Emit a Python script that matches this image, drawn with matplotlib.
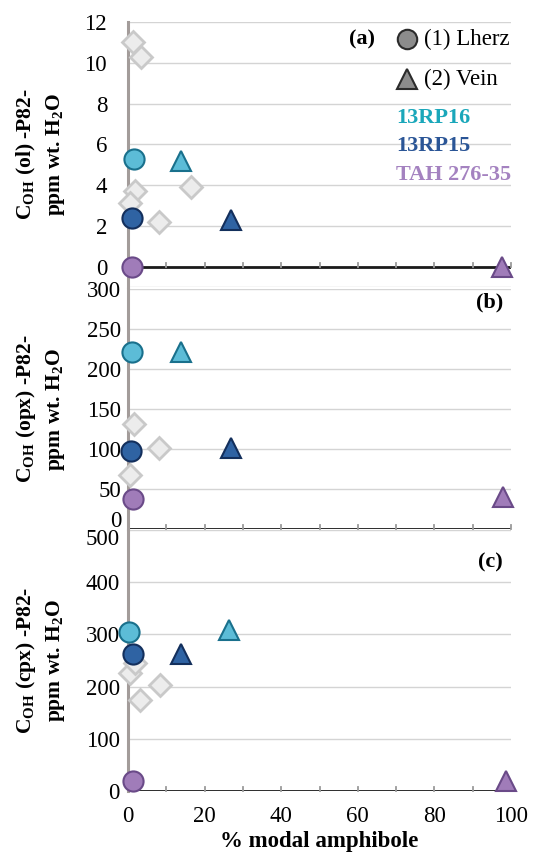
import matplotlib
matplotlib.use("Agg")
import matplotlib.pyplot as plt
import matplotlib.transforms as mtransforms

plt.rcParams["font.family"] = ["Liberation Serif", "DejaVu Serif"]
plt.rcParams["mathtext.fontset"] = "custom"
plt.rcParams["mathtext.rm"] = "Liberation Serif"
plt.rcParams["mathtext.bf"] = "Liberation Serif:bold"

# modal amphibole (%) and C_OH values
# panel (a) olivine
ol_lit_x = [1.3, 3.4, 1.8, 0.5, 8.1, 16.4]
ol_lit_y = [11.0, 10.3, 3.7, 3.1, 2.2, 3.9]
ol_lherz_x = [1.5, 1.0, 1.0]
ol_lherz_y = [5.3, 2.4, 0.0]
ol_vein_x = [13.8, 27.0, 97.6]
ol_vein_y = [5.2, 2.3, 0.0]

# panel (b) orthopyroxene
opx_lit_x = [1.6, 8.1, 0.5]
opx_lit_y = [131, 101, 67]
opx_lherz_x = [1.0, 0.8, 1.3]
opx_lherz_y = [221, 98, 37]
opx_vein_x = [13.8, 27.0, 97.8]
opx_vein_y = [221, 101, 40]

# panel (c) clinopyroxene
cpx_lit_x = [0.5, 1.8, 3.1, 8.4]
cpx_lit_y = [226, 245, 174, 203]
cpx_lherz_x = [0.3, 1.3, 1.3]
cpx_lherz_y = [305, 262, 19]
cpx_vein_x = [26.4, 13.8, 98.7]
cpx_vein_y = [308, 262, 19]

samples = ["13RP16", "13RP15", "TAH 276-35"]
fills = ["#5cbcd7", "#2f63a3", "#a07cb9"]
edges = ["#19708c", "#132f5c", "#6a4a88"]
text_colors = ["#1aa7ba", "#2a5596", "#a482c0"]

fig = plt.figure(figsize=(5.34, 8.52), dpi=100)
left, right = 128 / 534, 511 / 534


def frac(top_px, bottom_px):
    return [left, 1 - bottom_px / 852, right - left, (bottom_px - top_px) / 852]


ax_a = fig.add_axes(frac(22, 287))
ax_b = fig.add_axes(frac(289, 529))
ax_c = fig.add_axes(frac(530, 791))

panels = [
    (ax_a, ol_lit_x, ol_lit_y, ol_lherz_x, ol_lherz_y, ol_vein_x, ol_vein_y,
     (-1, 12), range(0, 13, 2), "ol", 15),
    (ax_b, opx_lit_x, opx_lit_y, opx_lherz_x, opx_lherz_y, opx_vein_x, opx_vein_y,
     (0, 300), range(0, 301, 50), "opx", 5),
    (ax_c, cpx_lit_x, cpx_lit_y, cpx_lherz_x, cpx_lherz_y, cpx_vein_x, cpx_vein_y,
     (0, 500), range(0, 501, 100), "cpx", 6),
]

for ax, lx, ly, hx, hy, vx, vy, ylim, yt, mineral, pad in panels:
    ax.set_xlim(0, 100)
    ax.set_ylim(*ylim)
    ax.set_yticks(list(yt))
    for g in yt:
        if g != 0:
            ax.axhline(g, color="#d4d4d4", lw=1.0, zorder=0)
    if ylim[0] < 0:
        ax.axhline(ylim[0], color="#d4d4d4", lw=1.0, zorder=0)
    ax.axhline(0, color="#1a1a1a", lw=2.0, zorder=1)
    for t in range(10, 101, 10):
        ax.plot([t, t], [0, (ylim[1] - ylim[0]) * 0.015], color="#9a9a9a",
                lw=1.3, zorder=1, clip_on=False)

    for s in ["top", "right", "bottom"]:
        ax.spines[s].set_visible(False)
    ax.spines["left"].set_color("#a39c9a")
    ax.spines["left"].set_linewidth(2.2)
    ax.tick_params(axis="y", length=0, pad=pad, labelsize=16.5)
    ax.tick_params(axis="x", length=0, labelsize=16.5, pad=11)
    ax.set_facecolor("none")

    ax.plot(lx, ly, "D", ms=11, mfc="#ececec", mec="#c9c9c9", mew=2,
            ls="none", zorder=3, clip_on=False)
    for i in range(3):
        ax.plot(hx[i], hy[i], "o", ms=14.5, mfc=fills[i], mec=edges[i], mew=1.5,
                zorder=4, clip_on=False)
        ax.plot(vx[i], vy[i], "^", ms=15, mfc=fills[i], mec=edges[i], mew=1.5,
                zorder=4, clip_on=False)

    ax.set_ylabel(r"$\mathbf{C}_{\mathbf{OH}}$ (%s) -P82-" "\n"
                  r"ppm wt. H$_\mathbf{2}$O" % mineral,
                  fontsize=15.5, fontweight="bold", linespacing=1.35)
    ax.yaxis.set_label_coords(-0.16, 0.5)

ax_a.set_xticks([])
ax_b.set_xticks([])
ax_c.set_xticks(range(0, 101, 20))
ax_c.set_xlabel("% modal amphibole", fontsize=16.5, fontweight="bold", labelpad=3)

# the "0" of (b) and the "500" of (c) sit on the same line: nudge apart
fig.canvas.draw()
lab_b0 = ax_b.get_yticklabels()[0]
lab_b0.set_transform(lab_b0.get_transform()
                     + mtransforms.ScaledTranslation(0, 7 / 72, fig.dpi_scale_trans))
lab_c500 = ax_c.get_yticklabels()[-1]
lab_c500.set_transform(lab_c500.get_transform()
                       + mtransforms.ScaledTranslation(0, -5 / 72, fig.dpi_scale_trans))

# panel letters
ax_a.text(0.611, 0.935, "(a)", transform=ax_a.transAxes, fontsize=16,
          fontweight="bold", ha="center", va="center")
ax_b.text(0.945, 0.945, "(b)", transform=ax_b.transAxes, fontsize=16,
          fontweight="bold", ha="center", va="center")
ax_c.text(0.945, 0.875, "(c)", transform=ax_c.transAxes, fontsize=16,
          fontweight="bold", ha="center", va="center")

# legend drawn as text and markers
ax_a.plot([0.728], [0.935], "o", ms=14, mfc="#8c8c8c", mec="#2b2b2b", mew=1.5,
          transform=ax_a.transAxes, clip_on=False)
ax_a.text(0.772, 0.935, "(1) Lherz", transform=ax_a.transAxes, fontsize=16.5,
          va="center", ha="left")
ax_a.plot([0.728], [0.784], "^", ms=15, mfc="#8c8c8c", mec="#2b2b2b", mew=1.5,
          transform=ax_a.transAxes, clip_on=False)
ax_a.text(0.772, 0.784, "(2) Vein", transform=ax_a.transAxes, fontsize=16.5,
          va="center", ha="left")
for name, col, yy in zip(samples, text_colors, [0.638, 0.532, 0.423]):
    ax_a.text(0.70, yy, name, transform=ax_a.transAxes, fontsize=16,
              fontweight="bold", color=col, va="center", ha="left")

fig.savefig("out.png", dpi=100)
